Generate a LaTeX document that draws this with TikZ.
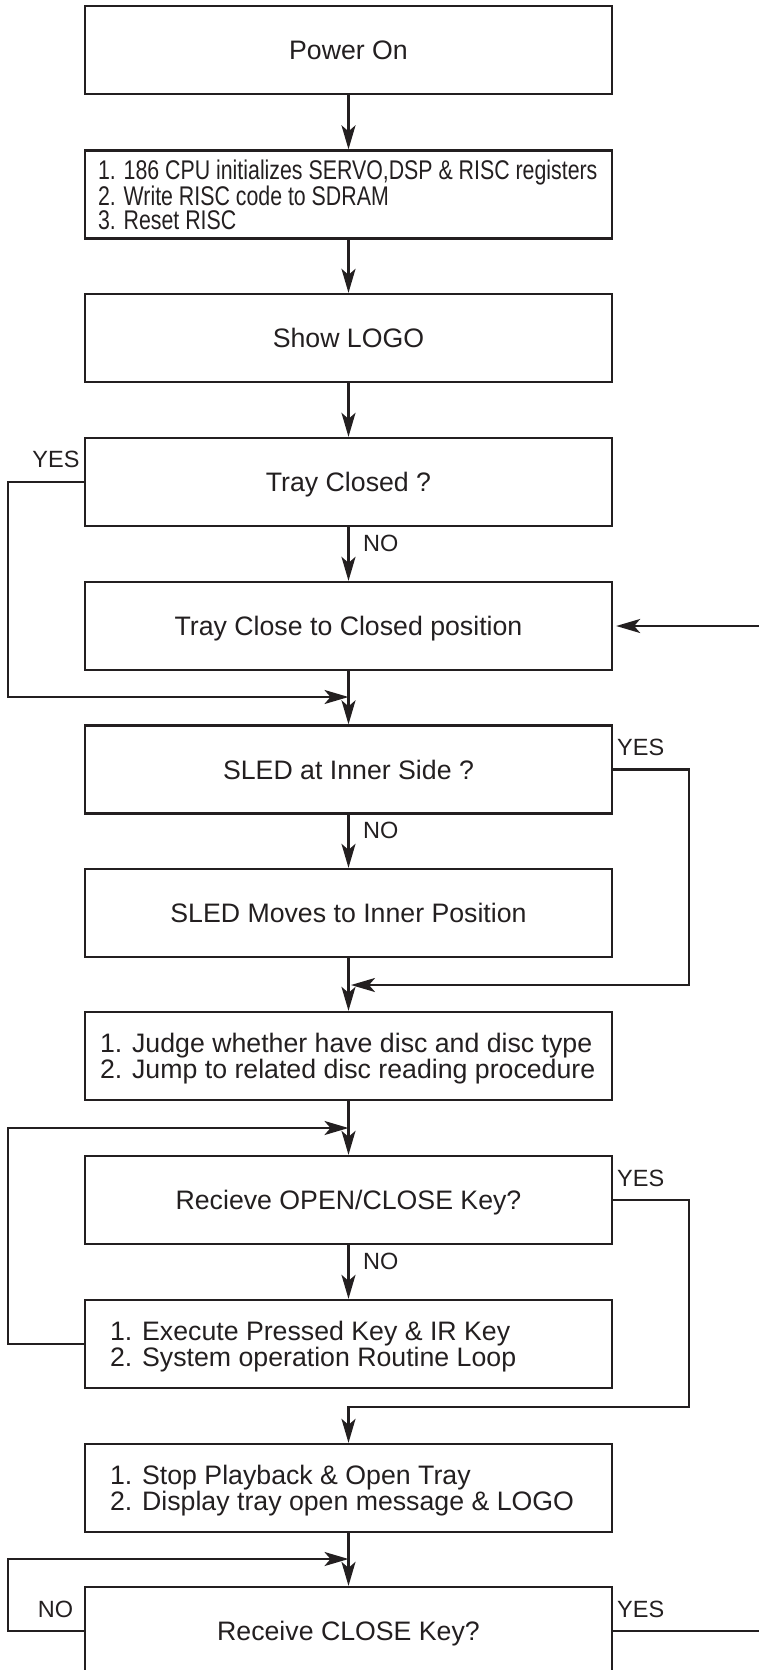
\documentclass[tikz,border=0pt]{standalone}
\usepackage{fontspec}
\setmainfont{Liberation Sans}
\newfontfamily\condfont[FakeStretch=0.79]{Liberation Sans}
\usetikzlibrary{arrows.meta}
\definecolor{ink}{HTML}{231F20}
\tikzset{
  box/.style={draw=ink,line width=2.3pt,minimum width=527pt,minimum height=88pt,inner ysep=0pt,inner xsep=0pt,text=ink,font=\fontsize{26.7}{26}\selectfont,align=center,text height=25pt,text depth=6pt},
  listbox/.style={box,text width=527pt-2*#1,inner xsep=#1,align=flush left,text height=22pt,text depth=30pt},
  tag/.style={text=ink,font=\fontsize{23.5}{24}\selectfont,inner sep=0pt},
  flow/.style={draw=ink,line width=2.4pt,-{Stealth[length=24pt,width=14pt,inset=6pt]}},
  plain/.style={draw=ink,line width=2.4pt}
}
\begin{document}
\begin{tikzpicture}[x=1pt,y=-1pt]
\useasboundingbox (0,0) rectangle (759,1670);
\clip (0,0) rectangle (759,1670);
\node[box] (b1) at (348.5,50) {Power On};
\node[listbox=13pt,font=\condfont\fontsize{27}{24.5}\selectfont,text depth=53pt] (b2) at (348.5,194.5) {\mbox{1. 186 CPU initializes SERVO,DSP \& RISC registers}\\2. Write RISC code to SDRAM\\3. Reset RISC};
\node[box] (b3) at (348.5,338) {Show LOGO};
\node[box] (b4) at (348.5,482) {Tray Closed ?};
\node[box] (b5) at (348.5,626) {Tray Close to Closed position};
\node[box] (b6) at (348.5,769.5) {SLED at Inner Side ?};
\node[box] (b7) at (348.5,913) {SLED Moves to Inner Position};
\node[listbox=15pt] (b8) at (348.5,1056) {1. Judge whether have disc and disc type\\2. Jump to related disc reading procedure};
\node[box] (b9) at (348.5,1200) {Recieve OPEN/CLOSE Key?};
\node[listbox=25pt] (b10) at (348.5,1344) {1. Execute Pressed Key \& IR Key\\2. System operation Routine Loop};
\node[listbox=25pt] (b11) at (348.5,1488) {1. Stop Playback \& Open Tray\\2. Display tray open message \& LOGO};
\node[box] (b12) at (348.5,1631) {Receive CLOSE Key?};
% labels
\node[tag] (y4) at (56,459) {YES};
\node[tag,anchor=west] (n4) at (363,543) {NO};
\node[tag,anchor=west] (y6) at (617,747) {YES};
\node[tag,anchor=west] (n6) at (363,830) {NO};
\node[tag,anchor=west] (y9) at (617,1178) {YES};
\node[tag,anchor=west] (n9) at (363,1261) {NO};
\node[tag] (n12) at (55.5,1609.5) {NO};
\node[tag,anchor=west] (y12) at (617,1609.5) {YES};
% junctions and free ends
\coordinate (m5) at (348.5,697);
\coordinate (m5l) at (8,697);
\coordinate (in5) at (759,626);
\coordinate (m7) at (351,985);
\coordinate (m7r) at (689,985);
\coordinate (m8) at (348.5,1128);
\coordinate (m8l) at (8,1128);
\coordinate (m10r) at (689,1407);
\coordinate (m10) at (348.5,1407);
\coordinate (m11) at (348.5,1559);
\coordinate (m11l) at (8,1559);
\coordinate (out12) at (759,1631);
% straight flow
\draw[flow] (b1) -- (b2);
\draw[flow] (b2) -- (b3);
\draw[flow] (b3) -- (b4);
\draw[flow] (b4) -- (b5);
\draw[flow] (b5) -- (b6);
\draw[flow] (b6) -- (b7);
\draw[flow] (b7) -- (b8);
\draw[flow] (b8) -- (b9);
\draw[flow] (b9) -- (b10);
\draw[flow] (b11) -- (b12);
% branches
\draw[flow] (b4.west) -| (m5l) -- (m5);
\draw[flow] (in5) -- ([xshift=3pt]b5.east);
\draw[flow] (b6.east) -| (m7r) -- (m7);
\draw[flow] (b10.west) -| (m8l) -- (m8);
\draw[flow] (b9.east) -| (m10r) -- (m10) -- (b11.north);
\draw[flow] (b12.west) -| (m11l) -- (m11);
\draw[plain] (b12.east) -- (out12);
\end{tikzpicture}
\end{document}
